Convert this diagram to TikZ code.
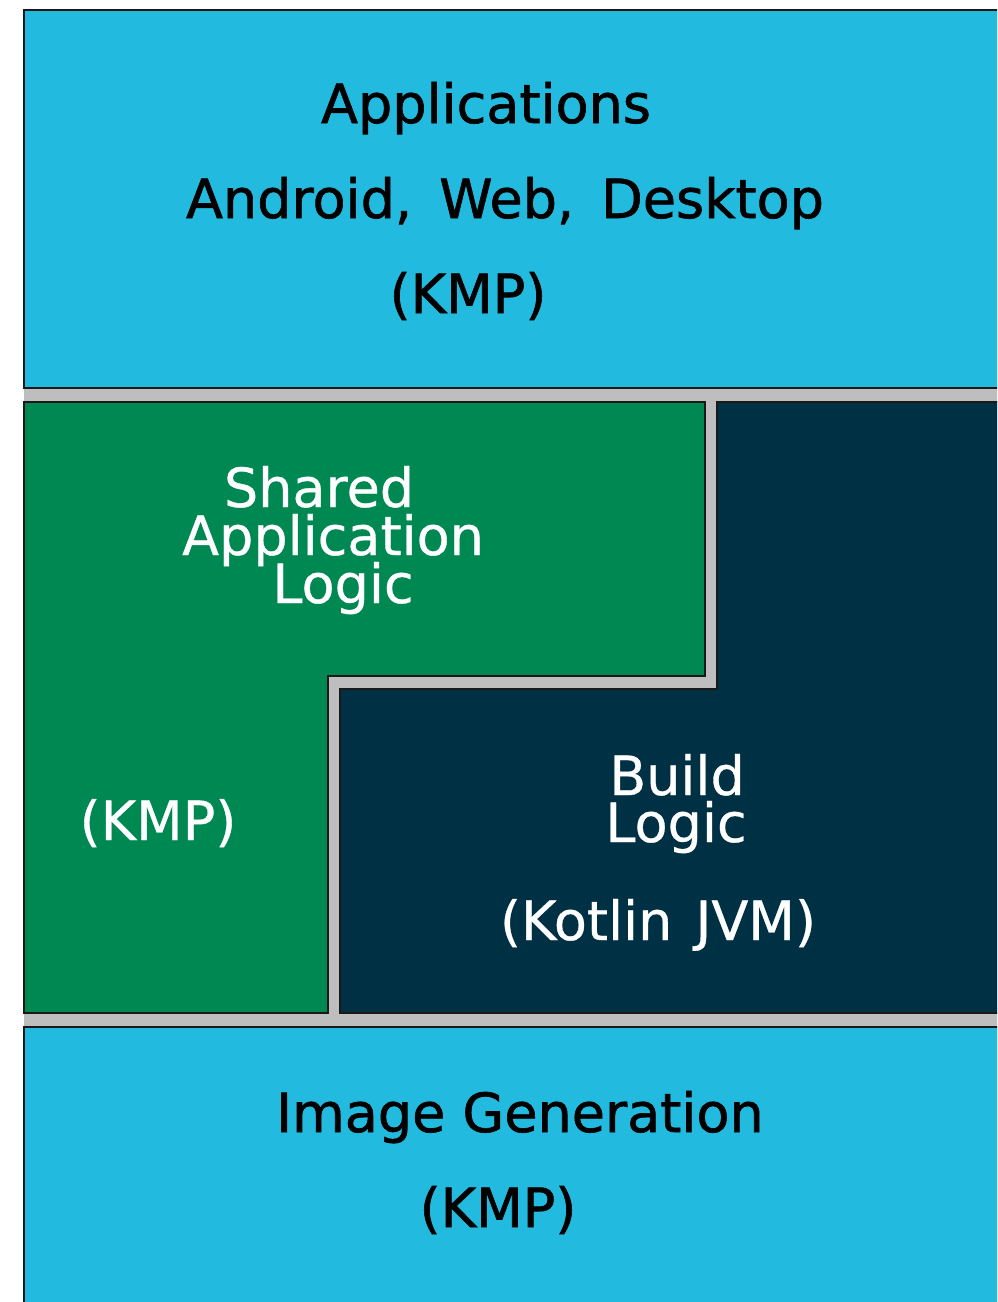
\documentclass[tikz,border=0pt]{standalone}
\usepackage{fontspec}
\setmainfont{DejaVu Sans}
\newfontfamily\boldishfont[FakeBold=1.2]{DejaVu Sans}
\newfontfamily\semiboldfont[FakeBold=0.6]{DejaVu Sans}
\definecolor{appcyan}{RGB}{34,186,222}
\definecolor{sharedgreen}{RGB}{0,136,82}
\definecolor{buildnavy}{RGB}{0,48,68}
\definecolor{gapgray}{RGB}{190,190,190}
\definecolor{edge}{RGB}{25,25,25}
\tikzset{
  block/.style={draw=edge, line width=1.4pt},
  lbl/.style={anchor=base, inner sep=0pt},
  darklbl/.style={lbl, text=black, font=\boldishfont\fontsize{27}{24}\selectfont},
  lightlbl/.style={lbl, text=white, font=\semiboldfont\fontsize{27}{24}\selectfont},
}
\begin{document}
\begin{tikzpicture}[x=0.5pt, y=-0.5pt]
\useasboundingbox (0,0) rectangle (997,1302);
\clip (0,0) rectangle (997,1302);
% gray gap background
\fill[gapgray] (24,386) rectangle (1010,1029);
% top block
\path[block, fill=appcyan] (24,10) rectangle (1010,388);
% green L-shaped block
\path[block, fill=sharedgreen] (24,402) -- (705,402) -- (705,676) -- (328,676) -- (328,1013) -- (24,1013) -- cycle;
% navy block
\path[block, fill=buildnavy] (717,402) -- (1010,402) -- (1010,1013) -- (340,1013) -- (340,689) -- (717,689) -- cycle;
% bottom block
\path[block, fill=appcyan] (24,1027) rectangle (1010,1320);
% texts
\node[darklbl] (apps) at (486,123) {Applications};
\node[darklbl] (platforms) at (505,218) {Android,\hspace{5pt} Web,\hspace{5pt} Desktop};
\node[darklbl] (appskmp) at (468,313) {(KMP)};
\node[lightlbl] (shared1) at (319,507) {Shared};
\node[lightlbl] (shared2) at (333,555) {Application};
\node[lightlbl] (shared3) at (343,603) {Logic};
\node[lightlbl] (sharedkmp) at (158,840) {(KMP)};
\node[lightlbl] (build1) at (677,795) {Build};
\node[lightlbl] (build2) at (676,842) {Logic};
\node[lightlbl] (buildjvm) at (658,940) {(Kotlin\hspace{3pt} JVM)};
\node[darklbl] (imggen) at (520,1132) {Image Generation};
\node[darklbl] (imgkmp) at (498,1227) {(KMP)};
\end{tikzpicture}
\end{document}
